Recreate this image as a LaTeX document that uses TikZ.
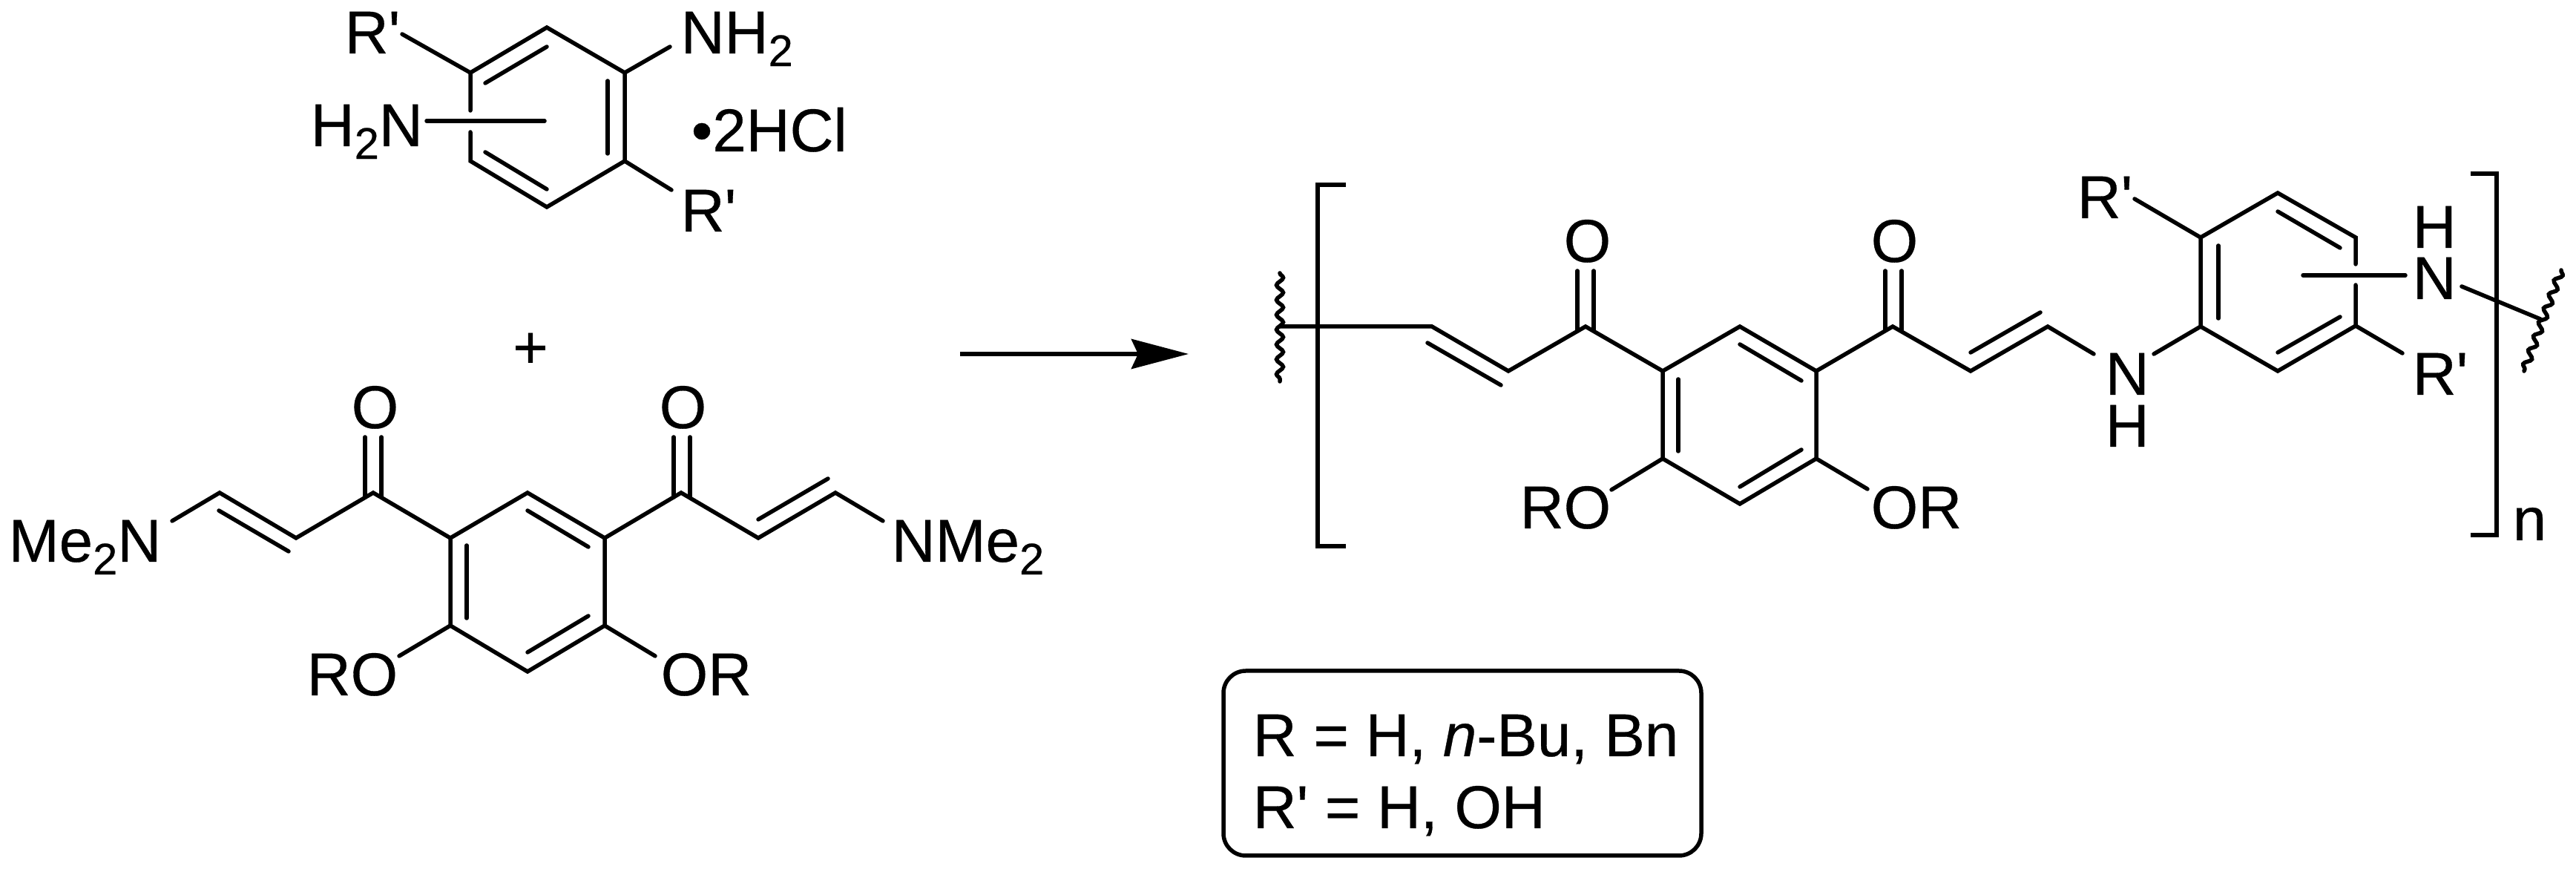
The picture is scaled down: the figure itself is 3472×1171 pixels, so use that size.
\documentclass[tikz,border=0pt]{standalone}
\usepackage{fontspec}
\setmainfont[FakeBold=.4]{Liberation Sans}
\usetikzlibrary{arrows.meta,decorations.pathmorphing}
\newcommand{\subtwo}{\raisebox{-.21em}{\fontsize{17}{17}\selectfont 2}}
\newcommand{\Rp}{R\textquotesingle}
\tikzset{
  atom/.style={anchor=base west,inner sep=0pt,font=\fontsize{23.2}{26}\selectfont},
  wavy/.style={decorate,decoration={snake,amplitude=.045cm,segment length=.2cm}}
}
\begin{document}
\begin{tikzpicture}[x=.01cm,y=-.01cm,line width=.055cm,line cap=round]
\useasboundingbox (0,0) rectangle (3472,1171);

\coordinate (t1) at (737,37);
\coordinate (t2) at (842,98);
\coordinate (t3) at (842,217);
\coordinate (t4) at (737,279);
\coordinate (t5) at (634,217);
\coordinate (t6) at (634,98);
\coordinate (t5a) at (634,178);
\coordinate (t6a) at (634,149);
\coordinate (tr) at (542,46);
\coordinate (tnh) at (903,63);
\coordinate (trb) at (905,256);
\coordinate (tn) at (575,163);
\coordinate (tne) at (734,163);
\draw (t6a) -- (t6) -- (t1) -- (t2) -- (t3) -- (t4) -- (t5) -- (t5a);
\draw (654,112) -- (737,63);
\draw (819,109) -- (819,207);
\draw (654,205) -- (737,255);
\draw (tr) -- (t6);
\draw (tnh) -- (t2);
\draw (trb) -- (t3);
\draw (tn) -- (tne);
\node [atom] (lr1) at (462,72) {\Rp};
\node [atom] (lnh2) at (915,72) {NH\subtwo};
\node [atom] (lh2n) at (416,197) {H\subtwo N};
\node [atom] (lhcl) at (929,204) {\textbullet 2HCl};
\node [atom] (lr2) at (915,312) {\Rp};
\node [atom,anchor=base] (lplus) at (715,496) {+};

\coordinate (m1) at (232,702);
\coordinate (m2) at (296,664);
\coordinate (m3) at (399,725);
\coordinate (m4) at (503,664);
\coordinate (m5) at (607,725);
\coordinate (m6) at (711,664);
\coordinate (m7) at (815,725);
\coordinate (m8) at (918,664);
\coordinate (m9) at (1022,725);
\coordinate (m10) at (1126,664);
\coordinate (m11) at (1190,702);
\coordinate (m12) at (607,843);
\coordinate (m13) at (711,905);
\coordinate (m14) at (815,843);
\coordinate (m15) at (538,884);
\coordinate (m16) at (883,884);
\draw (m1) -- (m2) -- (m3) -- (m4) -- (m5) -- (m6) -- (m7) -- (m8) -- (m9) -- (m10) -- (m11);
\draw (m5) -- (m12) -- (m13) -- (m14) -- (m7);
\draw (m15) -- (m12);
\draw (m16) -- (m14);
\draw (295,688) -- (389,743);
\draw (1022,700) -- (1116,645);
\draw (629,735) -- (629,833);
\draw (711,688) -- (793,737);
\draw (711,879) -- (793,830);
\draw (492,589) -- (492,670);
\draw (514,589) -- (514,670);
\draw (908,589) -- (908,670);
\draw (930,589) -- (930,670);
\node [atom] (lo1) at (471,577) {O};
\node [atom] (lo2) at (886,577) {O};
\node [atom] (lme) at (9,757) {Me\subtwo N};
\node [atom] (lnme) at (1199,757) {NMe\subtwo};
\node [atom] (lro) at (411,937) {RO};
\node [atom] (lor) at (888,937) {OR};

\coordinate (astart) at (1294,477);
\coordinate (aend) at (1602,477);
\draw [line width=.06cm,line cap=butt,-{Stealth[length=.77cm,width=.4cm,inset=.09cm]}] (astart) -- (aend);

\coordinate (p0) at (1725,440);
\coordinate (p1) at (1930,440);
\coordinate (p2) at (2033,500);
\coordinate (p3) at (2137,440);
\coordinate (p4) at (2241,500);
\coordinate (p5) at (2345,440);
\coordinate (p6) at (2448,500);
\coordinate (p7) at (2551,440);
\coordinate (p8) at (2656,500);
\coordinate (p9) at (2760,440);
\coordinate (p10) at (2822,477);
\coordinate (p11) at (2241,618);
\coordinate (p12) at (2345,679);
\coordinate (p13) at (2448,618);
\coordinate (p14) at (2172,660);
\coordinate (p15) at (2517,659);
\draw (p0) -- (p1) -- (p2) -- (p3) -- (p4) -- (p5) -- (p6) -- (p7) -- (p8) -- (p9) -- (p10);
\draw (p4) -- (p11) -- (p12) -- (p13) -- (p6);
\draw (p14) -- (p11);
\draw (p15) -- (p13);
\draw (1924,462) -- (2023,519);
\draw (2656,475) -- (2750,421);
\draw (2262,511) -- (2262,608);
\draw (2345,464) -- (2428,513);
\draw (2345,656) -- (2428,606);
\draw (2126,365) -- (2126,445);
\draw (2148,365) -- (2148,445);
\draw (2541,365) -- (2541,445);
\draw (2563,365) -- (2563,445);
\node [atom] (ro1) at (2105,353) {O};
\node [atom] (ro2) at (2519,353) {O};
\node [atom] (rro) at (2046,712) {RO};
\node [atom] (ror) at (2519,712) {OR};

\coordinate (q1) at (2903,477);
\coordinate (q2) at (2966,440);
\coordinate (q3) at (2966,320);
\coordinate (q4) at (3070,260);
\coordinate (q5) at (3175,320);
\coordinate (q5a) at (3175,356);
\coordinate (q6a) at (3175,384);
\coordinate (q6) at (3175,439);
\coordinate (q7) at (3070,500);
\coordinate (q8) at (2877,268);
\coordinate (q9) at (3238,476);
\coordinate (q10) at (3104,371);
\coordinate (q11) at (3242,371);
\coordinate (q12) at (3318,386);
\coordinate (q13) at (3424,430);
\draw (q1) -- (q2) -- (q3) -- (q4) -- (q5) -- (q5a);
\draw (q6a) -- (q6) -- (q7) -- (q2);
\draw (q8) -- (q3);
\draw (q9) -- (q6);
\draw (q10) -- (q11);
\draw (q12) -- (q13);
\draw (2990,331) -- (2990,429);
\draw (3070,285) -- (3154,334);
\draw (3070,475) -- (3154,427);
\node [atom] (rr1) at (2797,294) {\Rp};
\node [atom] (rr2) at (3249,532) {\Rp};
\node [atom] (rn1) at (2835,532) {N};
\node [atom] (rh1) at (2835,602) {H};
\node [atom] (rh2) at (3249,334) {H};
\node [atom] (rn2) at (3249,403) {N};
\node [atom] (rn) at (3384,728) {n};

\draw [line cap=butt] (1814,249) -- (1776,249) -- (1776,736) -- (1814,736);
\draw [line cap=butt] (3330,234) -- (3365,234) -- (3365,721) -- (3330,721);

\coordinate (w1) at (1725,368);
\coordinate (w2) at (1725,514);
\coordinate (w3) at (3452,364);
\coordinate (w4) at (3402,500);
\draw [wavy] (w1) -- (w2);
\draw [wavy] (w3) -- (w4);

\draw [rounded corners=.3cm] (1649,904) rectangle (2293,1153);
\node [atom] (lrdef) at (1686,1019) {R = H, \textit{n}-Bu, Bn};
\node [atom] (lrpdef) at (1686,1116) {\Rp{} = H, OH};
\end{tikzpicture}
\end{document}
